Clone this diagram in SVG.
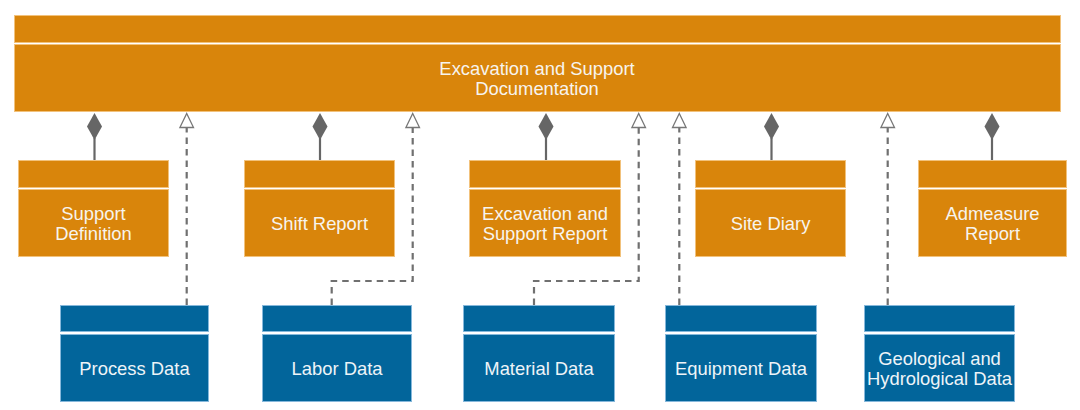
<svg xmlns="http://www.w3.org/2000/svg" width="1080" height="410" viewBox="0 0 1080 410">
<style>
.o{fill:#d9850b;stroke:#f2c27c;stroke-width:1}
.b{fill:#02659b;stroke:#86b8db;stroke-width:1}
.t{font-family:"Liberation Sans",Arial,sans-serif;font-size:18.4px;fill:#f7f4ee;text-anchor:middle}
.tb{fill:#eef4f8}
.dia{fill:#666666}
.cl{stroke:#666666;stroke-width:2.2;fill:none}
.dl{stroke:#707070;stroke-width:2.2;fill:none;stroke-dasharray:6.5 5}
.tri{fill:#ffffff;stroke:#777777;stroke-width:1.3}
</style>
<rect width="1080" height="410" fill="#ffffff"/>
<g id="doc">
<rect class="o" x="14.5" y="15.5" width="1046" height="27"/>
<rect class="o" x="14.5" y="44.5" width="1046" height="67"/>
<text class="t" x="537" y="74.5">Excavation and Support</text>
<text class="t" x="537" y="94.5">Documentation</text>
</g>
<g id="supportdef">
<rect class="o" x="18.5" y="160.5" width="150" height="27"/>
<rect class="o" x="18.5" y="189.5" width="150" height="67"/>
<text class="t" x="93.5" y="219.5">Support</text>
<text class="t" x="93.5" y="239.5">Definition</text>
</g>
<g id="shift">
<rect class="o" x="244.5" y="160.5" width="150" height="27"/>
<rect class="o" x="244.5" y="189.5" width="150" height="67"/>
<text class="t" x="319.5" y="229.5">Shift Report</text>
</g>
<g id="excrep">
<rect class="o" x="469.5" y="160.5" width="151" height="27"/>
<rect class="o" x="469.5" y="189.5" width="151" height="67"/>
<text class="t" x="545" y="219.5">Excavation and</text>
<text class="t" x="545" y="239.5">Support Report</text>
</g>
<g id="diary">
<rect class="o" x="695.5" y="160.5" width="150" height="27"/>
<rect class="o" x="695.5" y="189.5" width="150" height="67"/>
<text class="t" x="770.5" y="229.5">Site Diary</text>
</g>
<g id="admeasure">
<rect class="o" x="918.5" y="160.5" width="148" height="27"/>
<rect class="o" x="918.5" y="189.5" width="148" height="67"/>
<text class="t" x="992.5" y="219.5">Admeasure</text>
<text class="t" x="992.5" y="239.5">Report</text>
</g>
<g id="process">
<rect class="b" x="60.5" y="305.5" width="148" height="26"/>
<rect class="b" x="60.5" y="334.5" width="148" height="67"/>
<text class="t tb" x="134.5" y="374.5">Process Data</text>
</g>
<g id="labor">
<rect class="b" x="262.5" y="305.5" width="149" height="26"/>
<rect class="b" x="262.5" y="334.5" width="149" height="67"/>
<text class="t tb" x="337" y="374.5">Labor Data</text>
</g>
<g id="material">
<rect class="b" x="463.5" y="305.5" width="151" height="26"/>
<rect class="b" x="463.5" y="334.5" width="151" height="67"/>
<text class="t tb" x="539" y="374.5">Material Data</text>
</g>
<g id="equipment">
<rect class="b" x="665.5" y="305.5" width="151" height="26"/>
<rect class="b" x="665.5" y="334.5" width="151" height="67"/>
<text class="t tb" x="741" y="374.5">Equipment Data</text>
</g>
<g id="geo">
<rect class="b" x="864.5" y="305.5" width="150" height="26"/>
<rect class="b" x="864.5" y="334.5" width="150" height="67"/>
<text class="t tb" x="939.5" y="364.5">Geological and</text>
<text class="t tb" x="939.5" y="384.5">Hydrological Data</text>
</g>
<g id="connectors">
<line class="cl" x1="94.5" y1="138" x2="94.5" y2="160"/>
<polygon class="dia" points="94.5,113 102,126.5 94.5,140 87,126.5"/>
<line class="cl" x1="320" y1="138" x2="320" y2="160"/>
<polygon class="dia" points="320,113 327.5,126.5 320,140 312.5,126.5"/>
<line class="cl" x1="546" y1="138" x2="546" y2="160"/>
<polygon class="dia" points="546,113 553.5,126.5 546,140 538.5,126.5"/>
<line class="cl" x1="771.5" y1="138" x2="771.5" y2="160"/>
<polygon class="dia" points="771.5,113 779,126.5 771.5,140 764,126.5"/>
<line class="cl" x1="992" y1="138" x2="992" y2="160"/>
<polygon class="dia" points="992,113 999.5,126.5 992,140 984.5,126.5"/>
<path class="dl" d="M186.7,305 V128"/>
<path class="dl" d="M331.7,305 V281 H412.7 V128"/>
<path class="dl" d="M534,305 V281 H638.7 V128"/>
<path class="dl" d="M679.3,305 V128"/>
<path class="dl" d="M887.7,305 V128"/>
<polygon class="tri" points="186.7,113.5 193.5,127.5 179.9,127.5"/>
<polygon class="tri" points="412.7,113.5 419.5,127.5 405.9,127.5"/>
<polygon class="tri" points="638.7,113.5 645.5,127.5 631.9,127.5"/>
<polygon class="tri" points="679.3,113.5 686.1,127.5 672.5,127.5"/>
<polygon class="tri" points="887.7,113.5 894.5,127.5 880.9,127.5"/>
</g>
</svg>
